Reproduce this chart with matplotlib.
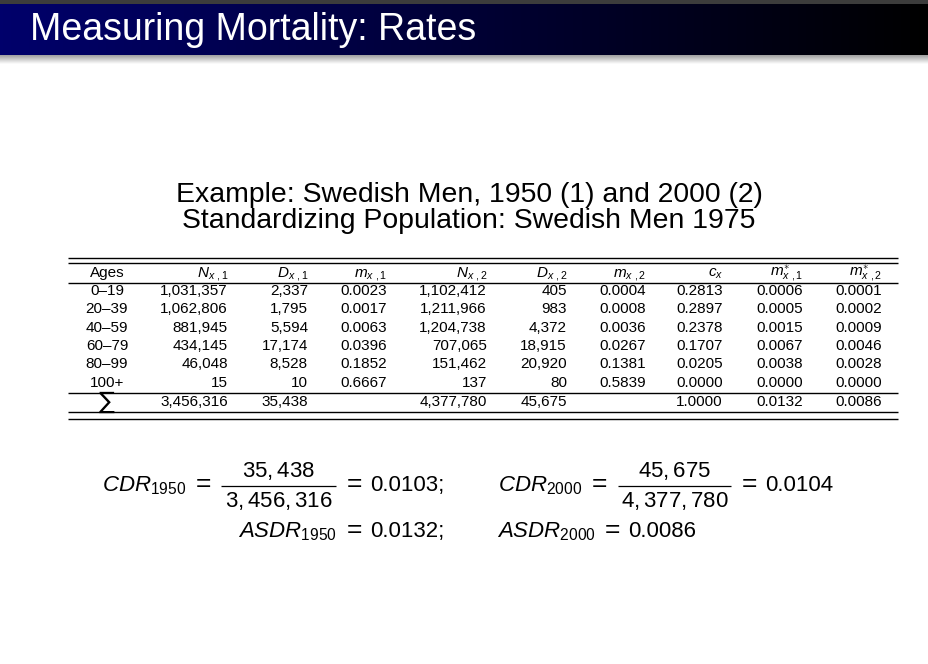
import numpy as np
import matplotlib
matplotlib.use('Agg')
from matplotlib import pyplot as plt

plt.rcParams['font.family'] = ['Liberation Sans', 'DejaVu Sans']
plt.rcParams['mathtext.fontset'] = 'custom'
plt.rcParams['mathtext.rm'] = 'Liberation Sans'
plt.rcParams['mathtext.it'] = 'Liberation Sans:italic'
plt.rcParams['mathtext.bf'] = 'Liberation Sans:bold'

# table data
ages = ['0–19', '20–39', '40–59', '60–79', '80–99', '100+']
N1 = [1031357, 1062806, 881945, 434145, 46048, 15]
D1 = [2337, 1795, 5594, 17174, 8528, 10]
m1 = [0.0023, 0.0017, 0.0063, 0.0396, 0.1852, 0.6667]
N2 = [1102412, 1211966, 1204738, 707065, 151462, 137]
D2 = [405, 983, 4372, 18915, 20920, 80]
m2 = [0.0004, 0.0008, 0.0036, 0.0267, 0.1381, 0.5839]
cx = [0.2813, 0.2897, 0.2378, 0.1707, 0.0205, 0.0000]
ms1 = [0.0006, 0.0005, 0.0015, 0.0067, 0.0038, 0.0000]
ms2 = [0.0001, 0.0002, 0.0009, 0.0046, 0.0028, 0.0000]
totals = ['3,456,316', '35,438', '', '4,377,780', '45,675', '', '1.0000', '0.0132', '0.0086']

headers = ['Ages', r'$N_{x\ ,1}$', r'$D_{x\ ,1}$', r'$m_{x\ ,1}$', r'$N_{x\ ,2}$', r'$D_{x\ ,2}$',
           r'$m_{x\ ,2}$', r'$c_x$', r'$m^{\ast}_{x\ ,1}$', r'$m^{\ast}_{x\ ,2}$']

# summary rates
cdr = ['0.0103;', '0.0104']
asdr = ['0.0132;', '0.0086']
fracs = [('35,438', '3,456,316'), ('45,675', '4,377,780')]

fig = plt.figure(figsize=(9.29, 6.64), dpi=100)
ax = fig.add_axes([0, 0, 1, 1])

# header bar
ax.add_patch(plt.Rectangle((0, 0), 929, 4, color='#3c3c3c', lw=0))
grad = np.linspace(0, 1, 256)
bar = np.zeros((1, 256, 3))
bar[0, :, 2] = 0.42 * (1 - grad)
ax.imshow(bar, extent=(0, 929, 55, 4), aspect='auto', interpolation='bilinear')
shade = np.linspace(0.62, 1.0, 64).reshape(-1, 1) * np.ones((1, 2))
ax.imshow(np.dstack([shade] * 3), extent=(0, 929, 64, 55), aspect='auto', interpolation='bilinear')
ax.text(30, 40, 'Measuring Mortality: Rates', color='white', fontsize=27, va='baseline')
ax.set_xlim(0, 929)
ax.set_ylim(664, 0)
ax.axis('off')

# subtitle
ax.text(469, 202, 'Example: Swedish Men, 1950 (1) and 2000 (2)', fontsize=20.4, ha='center', va='baseline')
ax.text(469, 228, 'Standardizing Population: Swedish Men 1975', fontsize=20.4, ha='center', va='baseline')

# table
x0, x1 = 68, 898
for y in [258.3, 263.3, 283.3, 393.3, 412.3, 419]:
    ax.hlines(y, x0, x1, color='black', lw=1)

col_x = [107, 228, 308, 387, 487, 567, 646, 723, 803, 882]
fs = 11
for j, h in enumerate(headers):
    ax.text(col_x[j], 277, h, fontsize=fs, ha='center' if j == 0 else 'right', va='baseline')

rows_y = [295, 313.3, 331.7, 350, 368.3, 386.7]
for i in range(len(ages)):
    vals = [ages[i], f'{N1[i]:,}', f'{D1[i]:,}', f'{m1[i]:.4f}', f'{N2[i]:,}', f'{D2[i]:,}',
            f'{m2[i]:.4f}', f'{cx[i]:.4f}', f'{ms1[i]:.4f}', f'{ms2[i]:.4f}']
    for j, v in enumerate(vals):
        ax.text(col_x[j], rows_y[i], v, fontsize=fs, ha='center' if j == 0 else 'right', va='baseline')

ax.text(col_x[0], 409, '∑', fontsize=17, family='DejaVu Sans', ha='center', va='baseline')
for j, v in enumerate(totals):
    ax.text(col_x[j + 1], 406, v, fontsize=fs, ha='right', va='baseline')

# formulas
fsz = 16
years = ['1950', '2000']
lab_x = [102, 498]
eq1_x = [203, 599.5]
bars = [(221, 336), (618, 731)]
eq2_x = [354, 749]
num_x = [370, 765]


def equals(x, y):
    ax.text(x, y, '=', fontsize=19, ha='center', va='baseline')


for k in range(2):
    ax.text(lab_x[k], 491, r'$\mathit{CDR}_{%s}$' % years[k], fontsize=fsz, va='baseline')
    equals(eq1_x[k], 491)
    xa, xb = bars[k]
    ax.hlines(486, xa, xb, color='black', lw=0.9)
    ax.text((xa + xb) / 2, 477, '$%s$' % fracs[k][0], fontsize=fsz, ha='center', va='baseline')
    ax.text((xa + xb) / 2, 507, '$%s$' % fracs[k][1], fontsize=fsz, ha='center', va='baseline')
    equals(eq2_x[k], 491)
    ax.text(num_x[k], 491, cdr[k], fontsize=fsz, va='baseline')

ax.text(337, 537, r'$\mathit{ASDR}_{1950}$', fontsize=fsz, ha='right', va='baseline')
equals(354, 537)
ax.text(370, 537, asdr[0], fontsize=fsz, va='baseline')
ax.text(497, 537, r'$\mathit{ASDR}_{2000}$', fontsize=fsz, va='baseline')
equals(612, 537)
ax.text(628, 537, asdr[1], fontsize=fsz, va='baseline')

plt.savefig('out.png', dpi=100)
